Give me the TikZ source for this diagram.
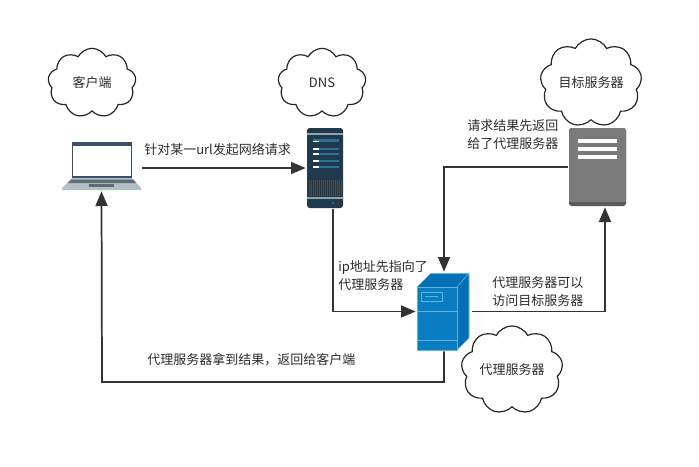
\documentclass[tikz,border=0pt]{standalone}
\usepackage{fontspec}
\setmainfont{Noto Sans CJK SC}
\usetikzlibrary{shapes.symbols,arrows.meta}
\definecolor{linegray}{HTML}{333333}
\definecolor{textgray}{HTML}{2b2b2b}
\definecolor{dnsdark}{HTML}{1f3a4d}
\definecolor{dnsbar}{HTML}{2f7193}
\definecolor{dnsline}{HTML}{8fa3ad}
\definecolor{lapframe}{HTML}{3b5068}
\definecolor{lapbase}{HTML}{b3bfc6}
\definecolor{lapkeys}{HTML}{5f6b73}
\definecolor{targetgray}{HTML}{7a7a7a}
\definecolor{targetdark}{HTML}{595959}
\definecolor{proxyblue}{HTML}{0a7cc1}
\definecolor{proxytop}{HTML}{0570b5}
\definecolor{proxyline}{HTML}{5fb4e0}
\tikzset{
 bubble/.style={cloud,draw=black!85,line width=.9pt,cloud puffs=9,cloud puff arc=125,aspect=1.25,inner sep=0pt,
  minimum width=66pt,minimum height=52pt,font=\fontsize{9.75pt}{12pt}\selectfont,text=textgray},
 icon/.style={inner sep=0pt,outer sep=1pt},
 flow/.style={draw=linegray,line width=1.3pt,-{Triangle[length=11pt,width=9pt]}},
 plain/.style={draw=linegray,line width=1.3pt},
 tag/.style={font=\fontsize{9.75pt}{13.5pt}\selectfont,text=textgray,align=left,inner sep=0pt}
}
\begin{document}
\begin{tikzpicture}[x=.75pt,y=-.75pt]
\useasboundingbox (0,0) rectangle (699,467);
% clouds
\node[bubble] (clientcloud) at (92,83) {客户端};
\node[bubble] (dnscloud) at (322,83) {DNS};
\node[bubble] (targetcloud) at (591,83) {目标服务器};
\node[bubble] (proxycloud) at (512,370) {代理服务器};
% icon boxes
\node[icon,minimum width=59.25pt,minimum height=36pt] (client) at (101.5,166) {};
\node[icon,minimum width=27pt,minimum height=60pt] (dns) at (325,168) {};
\node[icon,minimum width=42.75pt,minimum height=58.5pt] (target) at (597.5,167) {};
\node[icon,minimum width=40.5pt,minimum height=57.75pt] (proxy) at (444,311.5) {};
\coordinate (turn) at (102,382);
% laptop
\fill[lapframe] (72,142)--(132,142)--(132,178)--(72,178)--cycle;
\fill[white] (73,146)--(131,146)--(131,176)--(73,176)--cycle;
\fill[lapbase] (72,178)--(132,178)--(141,188)--(141,190)--(62,190)--(62,188)--cycle;
\fill[lapkeys] (71,179.5)--(133,179.5)--(136,183)--(68,183)--cycle;
\fill[lapkeys] (89,184)--(114,184)--(114,187)--(89,187)--cycle;
% dns server
\fill[dnsdark,rounded corners=2pt] (307,128) rectangle (343,208);
\fill[dnsline] (307,133) rectangle (343,134.5);
\fill[dnsline] (307,197) rectangle (343,198.5);
\foreach \ypos in {141,149,154,161,167}{
 \fill[dnsbar] (313,\ypos-1) rectangle (339,\ypos+1);
 \fill[white] (313,\ypos-1) rectangle (319,\ypos+1);
}
\fill[dnsbar] (313,139) rectangle (339,141);
\foreach \xpos in {309,311,...,341}{
 \fill[black!70] (\xpos,180) rectangle (\xpos+1,196);
}
\fill[teal] (333,203) circle (1.2);
\fill[purple] (338,203) circle (1.2);
% target server
\fill[targetdark,rounded corners=2pt] (569,128) rectangle (626,206);
\fill[targetgray,rounded corners=2pt] (569,128) rectangle (626,202);
\fill[targetgray] (569,190) rectangle (626,202);
\foreach \ypos in {139,147,155}{
 \fill[white] (578,\ypos) rectangle (617,\ypos+4);
}
% proxy server
\fill[proxyblue] (417,287)--(457,287)--(457,350)--(417,350)--cycle;
\fill[proxytop] (417,287)--(431,273)--(469,273)--(457,287)--cycle;
\fill[proxytop] (457,287)--(469,273)--(469,338)--(457,350)--cycle;
\draw[proxyline,line width=.4pt] (417,287)--(457,287)--(457,350)--(417,350)--cycle;
\draw[proxyline,line width=.4pt] (457,287)--(469,273)--(469,338)--(457,350);
\draw[proxyline,line width=.4pt] (431,273)--(469,273);
\draw[proxyline,line width=.4pt] (417,311)--(457,311);
\draw[proxyline,line width=.4pt] (417,340)--(457,340);
\draw[proxyline,line width=.4pt] (421,292) rectangle (442,301);
\draw[proxyline,line width=.6pt] (425,296.5)--(438,296.5);
% connectors
\draw[flow] (client.east |- dns.west)--(dns.west);
\draw[flow] ([xshift=6pt]dns.south) |- (proxy.west);
\draw[flow] (target.west) -| (proxy.north);
\draw[flow] (proxy.east) -| ([xshift=5.6pt]target.south);
\draw[flow] (proxy.south) |- (turn)--(client.south);
% labels
\node[tag,anchor=west] (askurl) at (144,150) {针对某一url发起网络请求};
\node[tag,anchor=west] (iptag) at (338,276) {ip地址先指向了\\代理服务器};
\node[tag,anchor=west] (backtag) at (467,135) {请求结果先返回\\给了代理服务器};
\node[tag,anchor=west] (canvisit) at (492,292) {代理服务器可以\\访问目标服务器};
\node[tag,anchor=west] (returntag) at (147,360) {代理服务器拿到结果，返回给客户端};
\end{tikzpicture}
\end{document}
